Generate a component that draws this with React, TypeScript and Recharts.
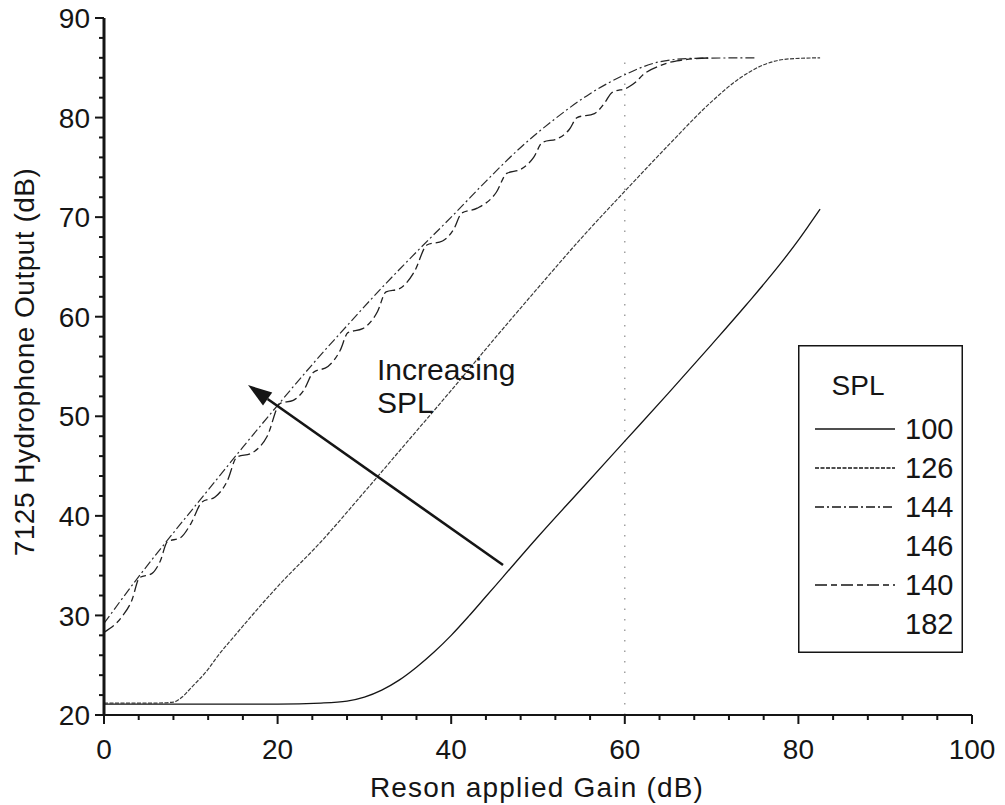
import React from "react";
import {
  LineChart,
  Line,
  XAxis,
  YAxis,
  Label,
  ReferenceLine,
  ReferenceDot,
} from "recharts";

const FONT = "'Liberation Sans', Arial, Helvetica, sans-serif";
const INK = "#151515";

// Reson applied gain (dB) vs 7125 hydrophone output (dB), one pair of arrays per SPL
const gain100 = [0, 10, 20, 25, 28, 30, 32, 34, 36, 38, 40, 42, 44, 46, 50, 55, 60, 65, 70, 74, 78, 80, 81.3, 82.5];
const out100 = [21.1, 21.1, 21.1, 21.2, 21.4, 21.8, 22.5, 23.5, 24.8, 26.3, 28, 29.9, 31.9, 33.9, 37.9, 42.7, 47.5, 52.3, 57.2, 61.2, 65.4, 67.7, 69.3, 70.8];

const gain126 = [0, 6, 8, 9, 10, 12, 13, 15, 20, 25, 30, 35, 40, 45, 50, 55, 60, 65, 70, 73, 76, 79, 82.5];
const out126 = [21.2, 21.2, 21.3, 21.8, 22.7, 24.6, 25.8, 27.9, 32.9, 37.4, 42.4, 47.5, 52.6, 57.8, 62.9, 67.9, 72.6, 77.2, 81.6, 83.8, 85.3, 85.9, 86];

const gain144 = [0, 4, 8, 12, 16, 20, 24, 28, 32, 36, 40, 44, 48, 52, 56, 60, 64, 68, 75];
const out144 = [29.2, 33.9, 38.3, 42.6, 46.9, 51.1, 55.2, 59.1, 62.9, 66.5, 70, 73.6, 77, 79.9, 82.4, 84.3, 85.6, 85.95, 86];

const gain140 = [
  0, 2, 3.2, 4.1, 5.5, 6.5, 7.3, 8.8, 10, 11.3, 12.8, 14.2, 15.3, 17, 18.8, 20.3, 21.8, 23, 24.1, 25.8,
  27.2, 28.1, 29.8, 31.5, 32.5, 34, 35.8, 37.2, 39, 40.3, 41.2, 43, 45.2, 46.4, 48, 49.5, 50.5, 52.3,
  53.6, 54.5, 56.5, 57.7, 58.5, 60.3, 61.3, 62.1, 64, 66, 70,
];
const out140 = [
  28.3, 29.8, 31.5, 33.8, 34.2, 35.5, 37.4, 37.8, 39.2, 41.4, 41.9, 43.5, 45.9, 46.3, 48, 51.3, 51.6, 52.6, 54.4, 55,
  56.6, 58.4, 58.8, 60.5, 62.5, 62.8, 64.6, 67.2, 67.6, 68.8, 70.4, 70.9, 72.5, 74.4, 74.8, 76, 77.5, 77.9,
  78.8, 80, 80.4, 81.5, 82.5, 83, 83.6, 84.3, 85.2, 85.7, 86,
];

const toRows = (gain: number[], out: number[]) => gain.map((g, i) => ({ gain: g, out: out[i] }));

const series = [
  { name: "100", rows: toRows(gain100, out100), dash: undefined, color: INK, width: 1.3 },
  { name: "126", rows: toRows(gain126, out126), dash: "4 1.5", color: "#3a3a3a", width: 1.2 },
  { name: "144", rows: toRows(gain144, out144), dash: "9 3 2 3", color: "#2a2a2a", width: 1.2 },
  { name: "140", rows: toRows(gain140, out140), dash: "12 4 6 4", color: "#202020", width: 1.3 },
];

// legend rows; 146 and 182 have no trace on the plot
const legendLabels = ["100", "126", "144", "146", "140", "182"];
const legendDash: Record<string, string | undefined> = {
  "100": undefined,
  "126": "4 1.5",
  "144": "9 3 2 3",
  "140": "12 4 6 4",
};

const xTicks = Array.from({ length: 26 }, (_, i) => i * 4);
const yTicks = Array.from({ length: 36 }, (_, i) => 20 + i * 2);

const XTick = (props: any) => {
  const { x, y, payload } = props;
  const major = payload.value % 20 === 0;
  return (
    <g>
      <line x1={x} x2={x} y1={y} y2={y + (major ? 9 : 5)} stroke={INK} strokeWidth={2} />
      {major && (
        <text x={x} y={y + 34} dy="0.36em" textAnchor="middle" fontSize={28} fontFamily={FONT} fill={INK}>
          {payload.value}
        </text>
      )}
    </g>
  );
};

const YTick = (props: any) => {
  const { x, y, payload } = props;
  const major = payload.value % 10 === 0;
  return (
    <g>
      <line x1={x} x2={x - (major ? 9 : 5)} y1={y} y2={y} stroke={INK} strokeWidth={2} />
      {major && (
        <text x={x - 14} y={y} dy="0.36em" textAnchor="end" fontSize={28} fontFamily={FONT} fill={INK}>
          {payload.value}
        </text>
      )}
    </g>
  );
};

const YTitle = () => (
  <text
    x={24}
    y={362}
    dy="0.36em"
    transform="rotate(-90, 24, 362)"
    textAnchor="middle"
    fontSize={28}
    letterSpacing={0.5}
    fontFamily={FONT}
    fill={INK}
  >
    7125 Hydrophone Output (dB)
  </text>
);

const XTitle = () => (
  <text x={537} y={797} textAnchor="middle" fontSize={28} letterSpacing={1.2} fontFamily={FONT} fill={INK}>
    Reson applied Gain (dB)
  </text>
);

const Arrow = (props: any) => {
  const { x1, y1, x2, y2 } = props;
  const ang = Math.atan2(y2 - y1, x2 - x1);
  const len = 24;
  const half = 8;
  const bx = x2 - len * Math.cos(ang);
  const by = y2 - len * Math.sin(ang);
  const px = -Math.sin(ang) * half;
  const py = Math.cos(ang) * half;
  return (
    <g>
      <line x1={x1} y1={y1} x2={bx} y2={by} stroke={INK} strokeWidth={2.6} />
      <polygon points={`${x2},${y2} ${bx + px},${by + py} ${bx - px},${by - py}`} fill={INK} />
    </g>
  );
};

const noteLabel = (text: string) => (p: any) => {
  const vb = p.viewBox || {};
  return (
    <text x={vb.x + (vb.width || 0) / 2} y={vb.y + (vb.height || 0) / 2} fontSize={30} fontFamily={FONT} fill={INK}>
      {text}
    </text>
  );
};

const LegendBox = () => (
  <svg width={165} height={308} style={{ display: "block" }}>
    <rect x={0.75} y={0.75} width={163.5} height={306.5} fill="#fff" stroke={INK} strokeWidth={1.5} />
    <text x={60} y={50} textAnchor="middle" fontSize={28} fontFamily={FONT} fill={INK}>
      SPL
    </text>
    {legendLabels.map((name, i) => {
      const cy = 84 + i * 39;
      const traced = name in legendDash;
      return (
        <g key={name}>
          {traced && (
            <line x1={17} x2={97} y1={cy} y2={cy} stroke={INK} strokeWidth={1.3} strokeDasharray={legendDash[name]} />
          )}
          <text x={107} y={cy} dy="0.36em" fontSize={29} fontFamily={FONT} fill={INK}>
            {name}
          </text>
        </g>
      );
    })}
  </svg>
);

export default function App() {
  return (
    <div style={{ position: "relative", width: 1005, height: 805, margin: "-8px 0 0 -8px" }}>
      <LineChart width={1005} height={805} margin={{ top: 18, right: 33, bottom: 5, left: 28 }}>
        <XAxis
          dataKey="gain"
          type="number"
          domain={[0, 100]}
          ticks={xTicks}
          interval={0}
          height={85}
          tickSize={0}
          tickMargin={0}
          tick={<XTick />}
          axisLine={{ stroke: INK, strokeWidth: 2 }}
          allowDuplicatedCategory={false}
        >
          <Label content={<XTitle />} />
        </XAxis>
        <YAxis
          type="number"
          domain={[20, 90]}
          ticks={yTicks}
          interval={0}
          width={76}
          tickSize={0}
          tickMargin={0}
          tick={<YTick />}
          axisLine={{ stroke: INK, strokeWidth: 3 }}
        >
          <Label content={<YTitle />} />
        </YAxis>
        <ReferenceLine
          segment={[
            { x: 60, y: 20 },
            { x: 60, y: 85.6 },
          ]}
          stroke="#8a8a8a"
          strokeWidth={1.2}
          strokeDasharray="1.5 9"
        />
        {series.map((s) => (
          <Line
            key={s.name}
            name={s.name}
            data={s.rows}
            dataKey="out"
            type="monotone"
            dot={false}
            activeDot={false}
            stroke={s.color}
            strokeWidth={s.width}
            strokeDasharray={s.dash}
            isAnimationActive={false}
          />
        ))}
        <ReferenceLine
          segment={[
            { x: 45.97, y: 35.06 },
            { x: 16.59, y: 53.13 },
          ]}
          shape={<Arrow />}
        />
        <ReferenceDot x={31.45} y={53.64} r={0} fill="none" stroke="none" label={{ content: noteLabel("Increasing") }} />
        <ReferenceDot x={31.45} y={50.33} r={0} fill="none" stroke="none" label={{ content: noteLabel("SPL") }} />
      </LineChart>
      <div style={{ position: "absolute", left: 798, top: 345 }}>
        <LegendBox />
      </div>
    </div>
  );
}
